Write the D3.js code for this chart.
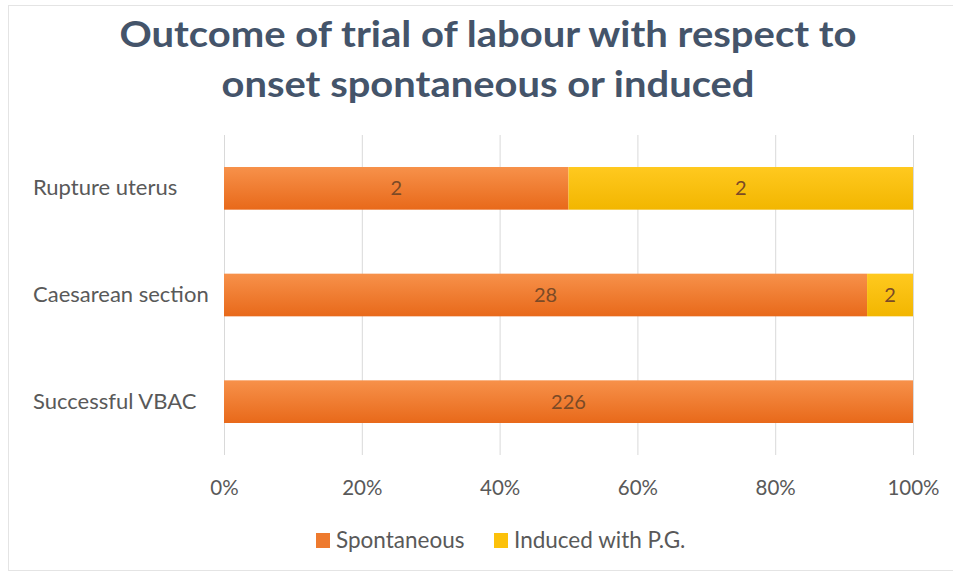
<!DOCTYPE html>
<html><head><meta charset="utf-8">
<script src="https://cdn.jsdelivr.net/npm/d3@7"></script>
<style>body{margin:0;background:#fff}svg{display:block}</style>
</head><body>
<script>
const categories = ["Rupture uterus", "Caesarean section", "Successful VBAC"];
const seriesNames = ["Spontaneous", "Induced with P.G."];
const spontaneous = [2, 28, 226];
const induced = [2, 2, 0];
const tickValues = [0, 0.2, 0.4, 0.6, 0.8, 1.0];
const titleLines = ["Outcome of trial of labour with respect to", "onset spontaneous or induced"];

const W = 953, H = 575;
const FONT = "Lato, 'Open Sans', sans-serif";
const svg = d3.select("body").append("svg").attr("width", W).attr("height", H);
const defs = svg.append("defs");
function grad(id, c1, c2) {
  const g = defs.append("linearGradient").attr("id", id).attr("x1", 0).attr("y1", 0).attr("x2", 0).attr("y2", 1);
  g.append("stop").attr("offset", "0%").attr("stop-color", c1);
  g.append("stop").attr("offset", "100%").attr("stop-color", c2);
}
grad("gOrange", "#f7914a", "#e8691a");
grad("gYellow", "#ffc91f", "#f2b600");
const fills = ["url(#gOrange)", "url(#gYellow)"];
const legendFills = ["#ee7a2e", "#fcc10a"];

// frame
svg.append("rect").attr("x", 8.5).attr("y", 5.5).attr("width", W + 10).attr("height", H - 10)
  .attr("fill", "none").attr("stroke", "#e4e4e4");

// title
svg.selectAll("text.title").data(titleLines).join("text").attr("class", "title")
  .attr("x", 488).attr("y", (d, i) => 47 + i * 50)
  .attr("text-anchor", "middle")
  .attr("font-family", FONT).attr("font-weight", "bold")
  .attr("font-size", 36).attr("fill", "#44546a")
  .text(d => d)
  .attr("textLength", (d, i) => i === 0 ? 737 : 533).attr("lengthAdjust", "spacingAndGlyphs");

const x = d3.scaleLinear().domain([0, 1]).range([224, 913]);
const y = d3.scaleBand().domain(categories).range([135, 455]).paddingInner(0.6).paddingOuter(0.3);

// grid
svg.append("g").selectAll("line").data(tickValues).join("line")
  .attr("x1", d => x(d) + 0.5).attr("x2", d => x(d) + 0.5)
  .attr("y1", 135).attr("y2", 455).attr("stroke", "#d9d9d9").attr("stroke-width", 1);

// stacked data
const rows = categories.map((c, i) => {
  const tot = spontaneous[i] + induced[i];
  return { cat: c, vals: [spontaneous[i], induced[i]], tot };
});
rows.forEach(r => {
  let acc = 0;
  r.segs = r.vals.map((v, k) => { const s = { k, v, x0: acc / r.tot, x1: (acc + v) / r.tot, cat: r.cat }; acc += v; return s; });
});
const segs = rows.flatMap(r => r.segs).filter(s => s.v > 0);

svg.append("g").selectAll("rect").data(segs).join("rect")
  .attr("x", d => x(d.x0)).attr("width", d => x(d.x1) - x(d.x0))
  .attr("y", d => y(d.cat)).attr("height", y.bandwidth())
  .attr("fill", d => fills[d.k]);

svg.append("g").selectAll("text").data(segs).join("text")
  .attr("x", d => (x(d.x0) + x(d.x1)) / 2).attr("y", d => y(d.cat) + y.bandwidth() / 2 + 7)
  .attr("text-anchor", "middle").attr("font-family", FONT)
  .attr("font-size", 20).attr("fill", "#7b4a26").text(d => d.v);

// category labels
svg.append("g").selectAll("text").data(categories).join("text")
  .attr("x", 33).attr("y", d => y(d) + y.bandwidth() / 2 + 7)
  .attr("font-family", FONT).attr("font-size", 22).attr("fill", "#595959")
  .text(d => d);

// x axis
const xAxis = d3.axisBottom(x).tickValues(tickValues).tickFormat(d3.format(".0%")).tickSize(0).tickPadding(0);
const ax = svg.append("g").attr("transform", "translate(0,480)").call(xAxis);
ax.select(".domain").remove();
ax.selectAll("text").attr("font-family", FONT).attr("font-size", 20.5).attr("fill", "#595959");

// legend
const legX = [316, 494];
const lg = svg.append("g").selectAll("g").data(seriesNames).join("g")
  .attr("transform", (d, i) => `translate(${legX[i]},533)`);
lg.append("rect").attr("width", 14).attr("height", 15).attr("fill", (d, i) => legendFills[i]);
lg.append("text").attr("x", 20).attr("y", 15).attr("font-family", FONT)
  .attr("font-size", 22.5).attr("fill", "#595959").text(d => d);
</script>
</body></html>
